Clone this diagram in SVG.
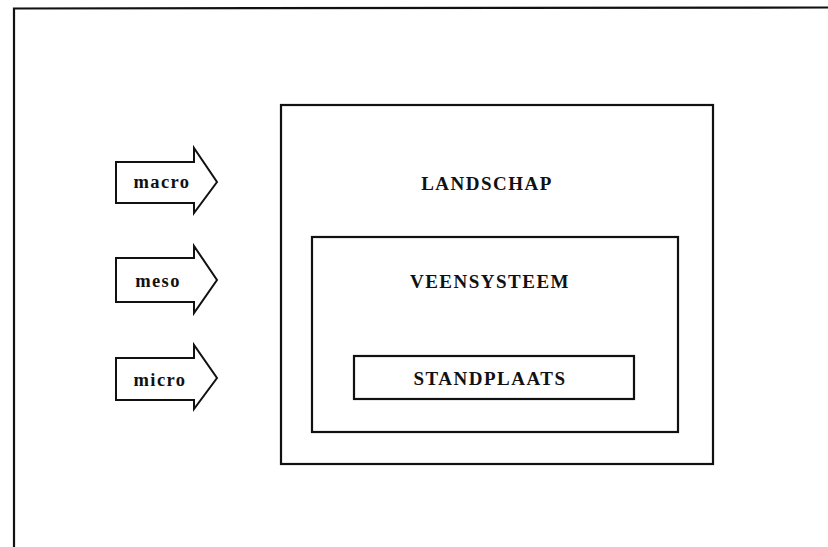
<svg xmlns="http://www.w3.org/2000/svg" width="828" height="547" viewBox="0 0 828 547">
<style>
.frame{fill:none;stroke:#111;stroke-width:2.2}
.box{fill:#fff;stroke:#111;stroke-width:2.2}
.arrow{fill:#fff;stroke:#111;stroke-width:2;stroke-linejoin:miter}
.big{font-family:"Liberation Serif","Times New Roman",serif;font-weight:bold;font-size:19px;letter-spacing:1.5px;fill:#111;text-anchor:middle}
.small{font-family:"Liberation Serif","Times New Roman",serif;font-weight:bold;font-size:18.5px;letter-spacing:1.4px;fill:#111;text-anchor:middle}
</style>
<rect width="828" height="547" fill="#fff"/>
<path class="frame" d="M14 547 L14 8.5 L828 7.5"/>
<g id="landschap">
<rect class="box" x="281" y="105" width="432" height="359"/>
<text class="big" x="487" y="190">LANDSCHAP</text>
</g>
<g id="veensysteem">
<rect class="box" x="312" y="237" width="366" height="195"/>
<text class="big" x="490" y="288">VEENSYSTEEM</text>
</g>
<g id="standplaats">
<rect class="box" x="354" y="356" width="280" height="43"/>
<text class="big" x="490" y="385">STANDPLAATS</text>
</g>
<g id="macro">
<path class="arrow" d="M116 162 L194 162 L194 148 L217 182 L194 213 L194 203 L116 203 Z"/>
<text class="small" x="162" y="188">macro</text>
</g>
<g id="meso">
<path class="arrow" d="M116 258 L194 258 L194 246 L217 280 L194 313 L194 302 L116 302 Z"/>
<text class="small" x="158" y="287">meso</text>
</g>
<g id="micro">
<path class="arrow" d="M116 358 L194 358 L194 345 L217 378 L194 409 L194 400 L116 400 Z"/>
<text class="small" x="160" y="386">micro</text>
</g>
</svg>
